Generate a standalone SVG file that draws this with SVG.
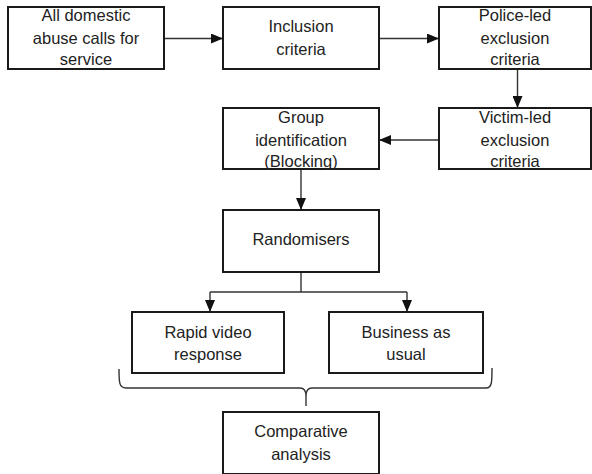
<svg xmlns="http://www.w3.org/2000/svg" width="592" height="474" viewBox="0 0 592 474">
  <style>
    .box { fill: #ffffff; stroke: #1a1a1a; stroke-width: 2; }
    .lbl { font-family: "Liberation Sans", Arial, sans-serif; font-size: 16.5px; fill: #222222; text-anchor: middle; }
    .conn { fill: none; stroke: #333333; stroke-width: 1.4; }
    .arrow { marker-end: url(#head); }
  </style>
  <defs>
    <marker id="head" viewBox="0 0 12 10" refX="12" refY="5" markerWidth="12" markerHeight="10" markerUnits="userSpaceOnUse" orient="auto">
      <path d="M0,0 L12,5 L0,10 Z" fill="#111111"/>
    </marker>
  </defs>
  <rect width="592" height="474" fill="#ffffff"/>

  <!-- connectors -->
  <g id="connectors">
    <line class="conn arrow" x1="164" y1="38.5" x2="223" y2="38.5"/>
    <line class="conn arrow" x1="379" y1="38.5" x2="439" y2="38.5"/>
    <line class="conn arrow" x1="517.5" y1="69" x2="517.5" y2="108"/>
    <line class="conn arrow" x1="439" y1="140" x2="379" y2="140"/>
    <line class="conn arrow" x1="301" y1="169" x2="301" y2="210"/>
    <polyline class="conn" points="301,272 301,292"/>
    <polyline class="conn arrow" points="210,292 210,312"/>
    <polyline class="conn arrow" points="407,292 407,312"/>
    <line class="conn" x1="210" y1="292" x2="407" y2="292"/>
    <!-- curly brace grouping both arms -->
    <path class="conn" d="M119,369 C119,382 119,388 126,388 L300,388 C304,388 306,391 306,396 L306,406 M306,396 C306,391 308,388 312,388 L486,388 C492,388 492,382 492,368"/>
  </g>

  <g id="node-all-calls">
    <rect class="box" x="8" y="7" width="156" height="62"/>
    <text class="lbl" x="86" y="21">All domestic</text>
    <text class="lbl" x="86" y="43.5">abuse calls for</text>
    <text class="lbl" x="86" y="65">service</text>
  </g>

  <g id="node-inclusion">
    <rect class="box" x="223" y="7" width="156" height="62"/>
    <text class="lbl" x="301" y="32">Inclusion</text>
    <text class="lbl" x="301" y="55">criteria</text>
  </g>

  <g id="node-police-exclusion">
    <rect class="box" x="439" y="7" width="152" height="62"/>
    <text class="lbl" x="515" y="21">Police-led</text>
    <text class="lbl" x="515" y="43.5">exclusion</text>
    <text class="lbl" x="515" y="65">criteria</text>
  </g>

  <g id="node-victim-exclusion">
    <rect class="box" x="439" y="108" width="152" height="61"/>
    <text class="lbl" x="515" y="123">Victim-led</text>
    <text class="lbl" x="515" y="145.5">exclusion</text>
    <text class="lbl" x="515" y="167">criteria</text>
  </g>

  <g id="node-group-identification">
    <rect class="box" x="223" y="108" width="156" height="61"/>
    <text class="lbl" x="301" y="123">Group</text>
    <text class="lbl" x="301" y="145.5">identification</text>
    <text class="lbl" x="301" y="167">(Blocking)</text>
  </g>

  <g id="node-randomisers">
    <rect class="box" x="223" y="210" width="156" height="62"/>
    <text class="lbl" x="301" y="245">Randomisers</text>
  </g>

  <g id="node-rapid-video">
    <rect class="box" x="132" y="312" width="152" height="61"/>
    <text class="lbl" x="208" y="338">Rapid video</text>
    <text class="lbl" x="208" y="360">response</text>
  </g>

  <g id="node-business-as-usual">
    <rect class="box" x="329" y="312" width="154" height="61"/>
    <text class="lbl" x="406" y="338">Business as</text>
    <text class="lbl" x="406" y="360">usual</text>
  </g>

  <g id="node-comparative">
    <rect class="box" x="223" y="412" width="156" height="62"/>
    <text class="lbl" x="301" y="437">Comparative</text>
    <text class="lbl" x="301" y="460">analysis</text>
  </g>
</svg>
